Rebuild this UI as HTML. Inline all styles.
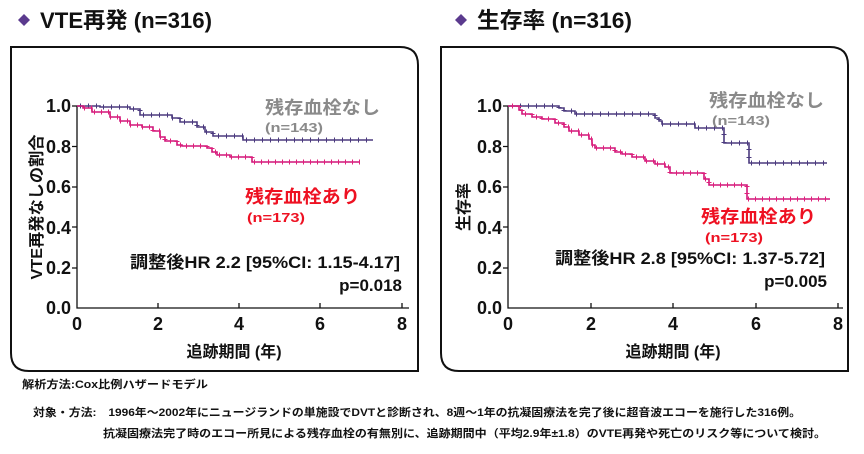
<!DOCTYPE html>
<html><head><meta charset="utf-8"><style>
body{margin:0;background:#fff;}
svg{display:block;font-family:"Liberation Sans","Noto Sans CJK JP",sans-serif;}
.b{font-weight:bold}
</style></head><body>
<svg width="864" height="454" viewBox="0 0 864 454">
<path d="M18,20 L24,14 L30,20 L24,26Z" fill="#5b3a8e"/>
<text x="40" y="28" font-size="22" class="b" fill="#111" textLength="172" lengthAdjust="spacingAndGlyphs">VTE再発 (n=316)</text>
<path d="M455,20 L461,14 L467,20 L461,26Z" fill="#5b3a8e"/>
<text x="477" y="28" font-size="22" class="b" fill="#111" textLength="155" lengthAdjust="spacingAndGlyphs">生存率 (n=316)</text>

<path d="M11,47 H400 Q418,47 418,65 V371 H29 Q11,371 11,353 Z" fill="none" stroke="#111" stroke-width="2"/>
<path d="M441,47 H830 Q848,47 848,65 V371 H459 Q441,371 441,353 Z" fill="none" stroke="#111" stroke-width="2"/>

<!-- LEFT CHART -->
<g stroke="#111" stroke-width="1.3" fill="none">
<path d="M77,106 V308 H409"/>
<path d="M72,106H77M72,146.5H77M72,187H77M72,227H77M72,268H77"/>
<path d="M158,308V303M239,308V303M320,308V303M402,308V303"/>
</g>
<g font-size="18" class="b" fill="#111" text-anchor="end">
<text x="71" y="112">1.0</text><text x="71" y="153">0.8</text><text x="71" y="193">0.6</text><text x="71" y="234">0.4</text><text x="71" y="274">0.2</text><text x="71" y="314">0.0</text>
</g>
<g font-size="18" class="b" fill="#111" text-anchor="middle">
<text x="77" y="330">0</text><text x="158" y="330">2</text><text x="239" y="330">4</text><text x="320" y="330">6</text><text x="402" y="330">8</text>
</g>
<text x="234" y="357" font-size="16" class="b" text-anchor="middle" fill="#111">追跡期間 (年)</text>
<text transform="translate(42,207) rotate(-90)" font-size="16" class="b" text-anchor="middle" fill="#111" textLength="145" lengthAdjust="spacingAndGlyphs">VTE再発なしの割合</text>

<path d="M77,106 H100 V107 H130 V109 H140 V115 H172 V118 H180 V122 H197 V127 H205 V132 H213 V136 H243 V140 H373" fill="none" stroke="#4b3a7e" stroke-width="1.6"/>
<path d="M80,106 H100 V107 H130 V109 H140 V115 H172 V118 H180 V122 H197 V127 H205 V132 H213 V136 H243 V140 H373" fill="none" stroke="#4b3a7e" stroke-width="5" stroke-dasharray="1 7"/>
<path d="M77,106 H83 V108 H92 V112 H110 V117 H120 V121 H130 V125 H142 V127 H153 V131 H160 V137 H165 V141 H177 V145 H182 V146 H207 V148 H212 V152 H217 V155 H230 V157 H252 V162 H360" fill="none" stroke="#d0157a" stroke-width="1.6"/>
<path d="M84,108 H92 V112 H110 V117 H120 V121 H130 V125 H142 V127 H153 V131 H160 V137 H165 V141 H177 V145 H182 V146 H207 V148 H212 V152 H217 V155 H230 V157 H252 V162 H360" fill="none" stroke="#e0207a" stroke-width="5" stroke-dasharray="1 6"/>

<text x="265" y="114" font-size="18" class="b" fill="#8a8a8a" textLength="115" lengthAdjust="spacingAndGlyphs">残存血栓なし</text>
<text x="265" y="132" font-size="13" class="b" fill="#8a8a8a" textLength="58" lengthAdjust="spacingAndGlyphs">(n=143)</text>
<text x="245" y="203" font-size="18" class="b" fill="#ee1122" textLength="115" lengthAdjust="spacingAndGlyphs">残存血栓あり</text>
<text x="247" y="222" font-size="13" class="b" fill="#ee1122" textLength="58" lengthAdjust="spacingAndGlyphs">(n=173)</text>
<text x="130" y="268" font-size="17" class="b" fill="#111" textLength="270" lengthAdjust="spacingAndGlyphs">調整後HR 2.2 [95%CI: 1.15-4.17]</text>
<text x="402" y="291" font-size="17" class="b" text-anchor="end" fill="#111">p=0.018</text>

<!-- RIGHT CHART -->
<g stroke="#111" stroke-width="1.3" fill="none">
<path d="M508,106 V308 H843"/>
<path d="M503,106H508M503,146.5H508M503,187H508M503,227H508M503,268H508"/>
<path d="M591,308V303M673,308V303M756,308V303M838,308V303"/>
</g>
<g font-size="18" class="b" fill="#111" text-anchor="end">
<text x="502" y="112">1.0</text><text x="502" y="153">0.8</text><text x="502" y="193">0.6</text><text x="502" y="234">0.4</text><text x="502" y="274">0.2</text><text x="502" y="314">0.0</text>
</g>
<g font-size="18" class="b" fill="#111" text-anchor="middle">
<text x="508" y="330">0</text><text x="591" y="330">2</text><text x="673" y="330">4</text><text x="756" y="330">6</text><text x="838" y="330">8</text>
</g>
<text x="673" y="357" font-size="16" class="b" text-anchor="middle" fill="#111">追跡期間 (年)</text>
<text transform="translate(469,207) rotate(-90)" font-size="16" class="b" text-anchor="middle" fill="#111">生存率</text>

<path d="M508,106 H559 V108 H564 V111 H575 V114 H655 V118 H659 V121 H662 V124 H695 V128 H724 V143 H749 V163 H827" fill="none" stroke="#4b3a7e" stroke-width="1.6"/>
<path d="M512,106 H559 V108 H564 V111 H575 V114 H655 V118 H659 V121 H662 V124 H695 V128 H724 V143 H749 V163 H827" fill="none" stroke="#4b3a7e" stroke-width="5" stroke-dasharray="1 7"/>
<path d="M508,106 H519 V110 H522 V114 H532 V117 H542 V119 H555 V123 H564 V127 H569 V131 H579 V135 H589 V139 H592 V145 H595 V148 H615 V152 H622 V154 H632 V157 H645 V161 H655 V164 H665 V167 H670 V173 H704 V179 H709 V185 H747 V199 H830" fill="none" stroke="#d0157a" stroke-width="1.6"/>
<path d="M512,106 H519 V110 H522 V114 H532 V117 H542 V119 H555 V123 H564 V127 H569 V131 H579 V135 H589 V139 H592 V145 H595 V148 H615 V152 H622 V154 H632 V157 H645 V161 H655 V164 H665 V167 H670 V173 H704 V179 H709 V185 H747 V199 H830" fill="none" stroke="#e0207a" stroke-width="5" stroke-dasharray="1 6"/>

<text x="709" y="107" font-size="18" class="b" fill="#8a8a8a" textLength="115" lengthAdjust="spacingAndGlyphs">残存血栓なし</text>
<text x="712" y="125" font-size="13" class="b" fill="#8a8a8a" textLength="58" lengthAdjust="spacingAndGlyphs">(n=143)</text>
<text x="701" y="223" font-size="18" class="b" fill="#ee1122" textLength="115" lengthAdjust="spacingAndGlyphs">残存血栓あり</text>
<text x="705" y="242" font-size="13" class="b" fill="#ee1122" textLength="58" lengthAdjust="spacingAndGlyphs">(n=173)</text>
<text x="555" y="264" font-size="17" class="b" fill="#111" textLength="270" lengthAdjust="spacingAndGlyphs">調整後HR 2.8 [95%CI: 1.37-5.72]</text>
<text x="827" y="287" font-size="17" class="b" text-anchor="end" fill="#111">p=0.005</text>

<text x="22" y="388" font-size="11" class="b" fill="#111" textLength="186" lengthAdjust="spacingAndGlyphs">解析方法:Cox比例ハザードモデル</text>
<text x="33" y="416" font-size="11" class="b" fill="#111" textLength="768" lengthAdjust="spacingAndGlyphs">対象・方法:　1996年～2002年にニュージランドの単施設でDVTと診断され、8週～1年の抗凝固療法を完了後に超音波エコーを施行した316例。</text>
<text x="103" y="437" font-size="11" class="b" fill="#111" textLength="723" lengthAdjust="spacingAndGlyphs">抗凝固療法完了時のエコー所見による残存血栓の有無別に、追跡期間中（平均2.9年±1.8）のVTE再発や死亡のリスク等について検討。</text>
</svg>
</body></html>
